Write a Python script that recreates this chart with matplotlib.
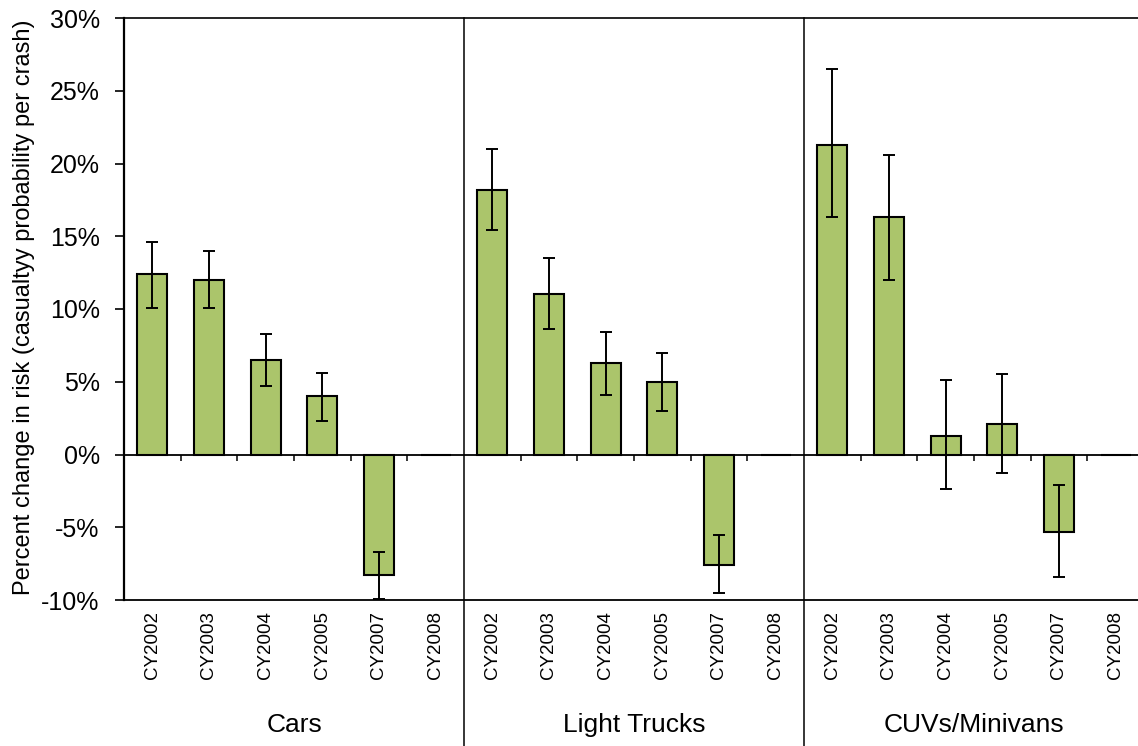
import numpy as np
import matplotlib
matplotlib.use("Agg")
import matplotlib.pyplot as plt
import matplotlib.transforms as mtransforms
from matplotlib.ticker import FuncFormatter

plt.rcParams['font.family'] = ['Liberation Sans', 'DejaVu Sans']

# vehicle groups and calendar years
groups = ['Cars', 'Light Trucks', 'CUVs/Minivans']
years = ['CY2002', 'CY2003', 'CY2004', 'CY2005', 'CY2007', 'CY2008']

# percent change in risk, with lower / upper confidence bounds
cars_pct = [12.4, 12.0, 6.5, 4.0, -8.3, 0.0]
cars_lo = [10.1, 10.1, 4.7, 2.3, -9.95, np.nan]
cars_hi = [14.6, 14.0, 8.3, 5.6, -6.7, np.nan]

trucks_pct = [18.2, 11.0, 6.3, 5.0, -7.6, 0.0]
trucks_lo = [15.4, 8.6, 4.1, 3.0, -9.5, np.nan]
trucks_hi = [21.0, 13.5, 8.4, 7.0, -5.5, np.nan]

cuv_pct = [21.3, 16.3, 1.3, 2.1, -5.3, 0.0]
cuv_lo = [16.3, 12.0, -2.4, -1.3, -8.4, np.nan]
cuv_hi = [26.5, 20.6, 5.1, 5.5, -2.1, np.nan]

y_ticks = [-10, -5, 0, 5, 10, 15, 20, 25, 30]

BAR_COLOR = '#abc56b'

values = np.array(cars_pct + trucks_pct + cuv_pct)
lower = np.array(cars_lo + trucks_lo + cuv_lo)
upper = np.array(cars_hi + trucks_hi + cuv_hi)
labels = years * len(groups)
x = np.arange(len(values))
n_year = len(years)

W, H = 1138, 746
fig = plt.figure(figsize=(W / 100, H / 100), dpi=100)
ax = fig.add_axes([124 / W, 1 - 600 / H, 1020 / W, 582 / H])

ax.bar(x, values, width=0.53, color=BAR_COLOR, edgecolor='black', linewidth=1.5, zorder=2)
yerr = np.vstack([values - lower, upper - values])
ax.errorbar(x, values, yerr=yerr, fmt='none', ecolor='black', elinewidth=1.4,
            capsize=4.3, capthick=1.4, zorder=3, clip_on=False)

# zero line with small ticks at the category boundaries
ax.axhline(0, color='black', linewidth=1.3, zorder=4)
bounds = [g * n_year + k + 0.5 for g in range(len(groups)) for k in range(n_year - 1)]
ax.plot(bounds, np.zeros(len(bounds)), linestyle='none', marker=3, markersize=4,
        markeredgewidth=1.1, color='black', zorder=4)

ax.set_xlim(-0.5, len(values) - 0.5)
ax.set_ylim(-10, 30)
ax.set_yticks(y_ticks)
ax.yaxis.set_major_formatter(FuncFormatter(lambda v, p: f'{v:.0f}%'))
ax.tick_params(axis='y', length=6.5, width=1.2, pad=11, labelsize=18)

ax.set_xticks(x)
ax.set_xticklabels(labels, rotation=90, fontsize=13.5)
ax.tick_params(axis='x', length=0, pad=8)

ax.spines['right'].set_visible(False)
ax.spines['left'].set_linewidth(1.6)
ax.spines['top'].set_linewidth(1.2)
ax.spines['bottom'].set_linewidth(1.3)

# group separators and group names under the axis
trans = mtransforms.blended_transform_factory(ax.transData, fig.transFigure)
for g in range(1, len(groups)):
    sx = g * n_year - 0.5
    ax.plot([sx, sx], [1 - 18 / H, 0], transform=trans, color='black',
            linewidth=1.1, clip_on=False, zorder=5)
for g, name in enumerate(groups):
    ax.text(g * n_year + (n_year - 1) / 2, 1 - 725 / H, name, transform=trans,
            ha='center', va='center', fontsize=19)

fig.text(24 / W, 1 - 307 / H, 'Percent change in risk (casualtyy probability per crash)',
         rotation=90, ha='center', va='center', fontsize=17)

fig.savefig('out.png', dpi=100)
